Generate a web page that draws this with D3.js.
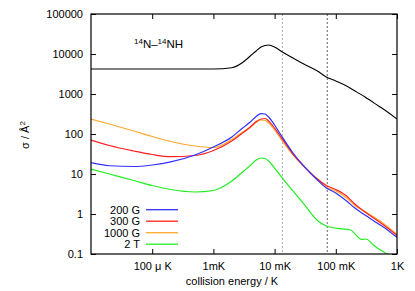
<!DOCTYPE html>
<html><head><meta charset="utf-8">
<script src="https://cdn.jsdelivr.net/npm/d3@7"></script>
<style>body{margin:0;background:#fff}svg{display:block}text{font-family:"Liberation Sans",Arial,sans-serif}</style>
</head><body>
<script>
// energies in K
const energies = [1e-5,2e-5,5e-5,1e-4,2e-4,5e-4,1e-3,2e-3,3e-3,4e-3,5e-3,6e-3,7e-3,8e-3,1e-2,1.3e-2,2e-2,3e-2,5e-2,7e-2,0.1,0.15,0.2,0.3,0.5,0.7,1.0];
const nnh   = [4220,4220,4220,4220,4220,4220,4220,4550,6130,8900,11900,14960,16300,16800,14960,11550,7940,5620,3760,2660,2110,1585,1223,841,501,355,237];
const g200  = [19.2,16.1,15.4,16.8,20,29.9,47.3,84,141,200,274,325,316,266,168,89,33.5,15.8,7.08,4.47,3.35,2.11,1.45,0.94,0.56,0.40,0.26];
const g300  = [70.8,51.6,37.6,30.7,27.1,29,38.7,66.8,106,150,205,237,244,211,141,79,31.6,15.8,7.5,5.16,4.1,2.82,1.83,1.12,0.65,0.447,0.29];
const g1000 = [237,178,119,86.6,64.9,50.1,46,72.9,112,145,194,224,218,188,126,70.8,29.9,15.4,7.5,4.73,3.76,2.51,1.68,1.15,0.71,0.487,0.307];
const energies2T = [1e-5,2e-5,5e-5,1e-4,2e-4,5e-4,1e-3,2e-3,3e-3,4e-3,5e-3,6e-3,7e-3,8e-3,1e-2,1.3e-2,2e-2,3e-2,5e-2,7e-2,0.117,0.171,0.265,0.32,0.41,0.687,0.828];
const t2    = [13.3,10,6.88,5.16,4.1,3.55,3.87,6.68,11.2,16.3,22.4,25.1,24.4,21.1,14.1,8.41,3.76,1.78,0.688,0.50,0.429,0.403,0.233,0.234,0.168,0.1,0.084];
const seriesNames = ["200 G","300 G","1000 G","2 T"];
const seriesColors = ["#3030ff","#ff2020","#ffa830","#20ee20"];
const xTickValues = [1e-4,1e-3,1e-2,1e-1,1];
const xTickLabels = ["100 \u03bc K","1mK","10 mK","100 mK","1K"];
const yTickValues = [0.1,1,10,100,1000,10000,100000];
const yTickLabels = ["0.1","1","10","100","1000","10000","100000"];
const markers = [0.0134,0.0726];

const W=415,H=291, L=91,R=397,T=14,B=254;
const svg=d3.select("body").append("svg").attr("width",W).attr("height",H);
const x=d3.scaleLog().domain([1e-5,1]).range([L,R]);
const y=d3.scaleLog().domain([0.1,100000]).range([B,T]);

// clip
svg.append("clipPath").attr("id","c").append("rect").attr("x",L).attr("y",T).attr("width",R-L).attr("height",B-T);

// marker lines
svg.selectAll(".mk").data(markers).enter().append("line")
  .attr("x1",d=>x(d)).attr("x2",d=>x(d)).attr("y1",T).attr("y2",B)
  .attr("stroke",(d,i)=>i===0?"#aaa":"#666").attr("stroke-width",1).attr("stroke-dasharray","2,2");

// axes (inward ticks)
const fmtX=(d)=>xTickLabels[xTickValues.indexOf(d)];
const fmtY=(d)=>yTickLabels[yTickValues.findIndex(v=>Math.abs(v-d)/v<1e-6)];
const gx=svg.append("g").attr("transform",`translate(0,${B})`)
  .call(d3.axisBottom(x).tickValues(xTickValues).tickFormat(fmtX).tickSizeInner(-5).tickSizeOuter(0).tickPadding(8));
const gxt=svg.append("g").attr("transform",`translate(0,${T})`)
  .call(d3.axisTop(x).tickValues(xTickValues).tickFormat("").tickSizeInner(-5).tickSizeOuter(0));
const gy=svg.append("g").attr("transform",`translate(${L},0)`)
  .call(d3.axisLeft(y).tickValues(yTickValues).tickFormat(fmtY).tickSizeInner(-5).tickSizeOuter(0).tickPadding(8));
const gyr=svg.append("g").attr("transform",`translate(${R},0)`)
  .call(d3.axisRight(y).tickValues(yTickValues).tickFormat("").tickSizeInner(-5).tickSizeOuter(0));
[gx,gxt,gy,gyr].forEach(g=>{g.select(".domain").remove();g.selectAll("line").attr("stroke","#000");
  g.selectAll("text").attr("fill","#000").style("font-size","11px").style("font-family","Liberation Sans, Arial, sans-serif");});
gy.selectAll("text").attr("dy","0.35em");

// curves
const line=d3.line().x(d=>x(d[0])).y(d=>y(d[1])).curve(d3.curveMonotoneX);
const gc=svg.append("g").attr("clip-path","url(#c)");
gc.append("path").datum(d3.zip(energies,nnh)).attr("d",line).attr("fill","none").attr("stroke","#000").attr("stroke-width",1.1);
const data=[d3.zip(energies,g200),d3.zip(energies,g300),d3.zip(energies,g1000),d3.zip(energies2T,t2)];
const order=[3,2,1,0];
order.forEach(i=>{
  gc.append("path").datum(data[i]).attr("d",line).attr("fill","none").attr("stroke",seriesColors[i]).attr("stroke-width",1.2);
});

// frame
svg.append("rect").attr("x",L).attr("y",T).attr("width",R-L).attr("height",B-T).attr("fill","none").attr("stroke","#000").attr("stroke-width",1.2);

// legend
const lg=svg.append("g");
seriesNames.forEach((n,i)=>{
  const yy=209.7+i*11.5;
  lg.append("text").attr("x",140).attr("y",yy).attr("dy","0.35em").attr("text-anchor","end").style("font-size","11px").text(n);
  lg.append("line").attr("x1",146).attr("x2",178).attr("y1",yy).attr("y2",yy).attr("stroke",seriesColors[i]).attr("stroke-width",1.3);
});

// annotation
const ann=svg.append("text").attr("x",134).attr("y",47.5).style("font-size","11.5px");
ann.append("tspan").attr("dy","-4").style("font-size","8px").text("14");
ann.append("tspan").attr("dy","4").text("N\u2013");
ann.append("tspan").attr("dy","-4").style("font-size","8px").text("14");
ann.append("tspan").attr("dy","4").text("NH");

// axis labels
svg.append("text").attr("x",232).attr("y",285).attr("text-anchor","middle").style("font-size","11px").text("collision energy / K");
const yl=svg.append("text").attr("transform","translate(29,135) rotate(-90)").attr("text-anchor","middle").style("font-size","11px");
yl.append("tspan").text("\u03c3 / \u00c5");
yl.append("tspan").attr("dy","-4").style("font-size","8px").text("2");
</script>
</body></html>
